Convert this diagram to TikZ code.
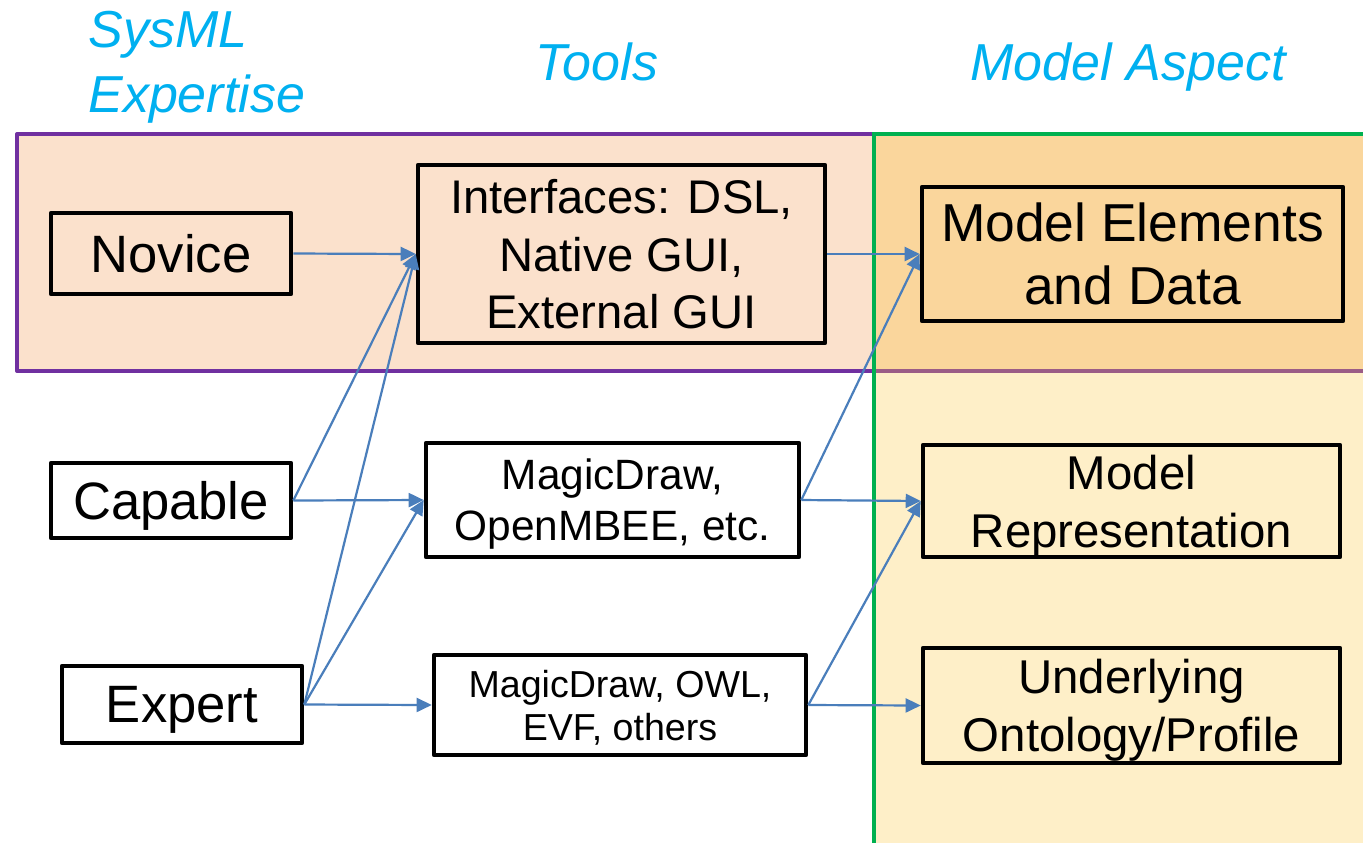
\documentclass[tikz,border=0pt]{standalone}
\usepackage{fontspec}
\setmainfont{Liberation Sans}
\usetikzlibrary{arrows.meta}

\definecolor{bandpeach}{HTML}{FBE1CC}
\definecolor{bandoverlap}{HTML}{FAD69C}
\definecolor{bandcream}{HTML}{FEEFC8}
\definecolor{bandpurple}{HTML}{7030A0}
\definecolor{bandmuted}{HTML}{9B5C86}
\definecolor{bandgreen}{HTML}{00B050}
\definecolor{linkblue}{HTML}{4A7EBB}
\definecolor{headcyan}{HTML}{00B0F0}

% keep the last line of a label from adding depth, so text centres on its letters
\newcommand{\nodp}[1]{\raisebox{0pt}[\height][0pt]{#1}}

\begin{document}
\begin{tikzpicture}[x=0.5pt,y=-0.5pt,
  box/.style={draw=black, line width=2.3pt, rectangle, inner sep=0pt,
              align=center, line join=round},
  link/.style={draw=linkblue, line width=1.1pt,
               -{Triangle[length=7.5pt,width=7pt]}},
  heading/.style={text=headcyan, inner sep=0pt,
                  font=\fontsize{26}{32}\selectfont\itshape}]
\useasboundingbox (0,0) rectangle (1363,842);
\clip (0,0) rectangle (1363,842);

% background bands
\fill[bandpeach]   (17,134) rectangle (874,371);
\fill[bandoverlap] (874,134) rectangle (1380,371);
\fill[bandcream]   (874,371) rectangle (1380,860);
\draw[bandpurple, line width=2pt, line join=round] (874,134) -- (17,134) -- (17,371) -- (874,371);
\draw[bandmuted, line width=2pt] (874,371) -- (1380,371);
\draw[bandgreen, line width=2pt] (1380,134) -- (874,134) -- (874,860);

% column headings
\node[heading, anchor=base west] (hexp1) at (88,47) {SysML};
\node[heading, anchor=base west] (hexp2) at (88,112) {Expertise};
\node[heading, anchor=base] (htools) at (597,80) {Tools};
\node[heading, anchor=base] (haspect) at (1128,80) {Model Aspect};

% expertise levels
\node[box, minimum width=120pt, minimum height=40.5pt,
      font=\fontsize{26.3}{31.5}\selectfont] (novice) at (171,253.5) {\nodp{Novice}};
\node[box, minimum width=120pt, minimum height=37.5pt,
      font=\fontsize{26.3}{31.5}\selectfont] (capable) at (171,500.5) {\nodp{Capable}};
\node[box, minimum width=120pt, minimum height=38.5pt,
      font=\fontsize{26.3}{31.5}\selectfont] (expert) at (182,704.5) {\nodp{Expert}};

% tools
\node[box, minimum width=203.5pt, minimum height=89pt,
      font=\fontsize{23.6}{28.75}\selectfont] (iface) at (621.5,254)
      {Interfaces: DSL,\\Native GUI,\\\nodp{External GUI}};
\node[box, minimum width=186.5pt, minimum height=57pt,
      font=\fontsize{21.2}{25.5}\selectfont] (md1) at (612.5,500)
      {MagicDraw,\\\nodp{OpenMBEE, etc.}};
\node[box, minimum width=186pt, minimum height=50pt,
      font=\fontsize{18.8}{21.5}\selectfont] (md2) at (620,705)
      {MagicDraw, OWL,\\\nodp{EVF, others}};

% model aspects
\node[box, minimum width=210.5pt, minimum height=67pt,
      font=\fontsize{26.7}{31.5}\selectfont] (melem) at (1132.5,254)
      {Model Elements\\\nodp{and Data}};
\node[box, minimum width=208.5pt, minimum height=56pt,
      font=\fontsize{23.7}{29}\selectfont] (mrep) at (1131.5,501)
      {Model\\\nodp{Representation}};
\node[box, minimum width=208.5pt, minimum height=57.5pt,
      font=\fontsize{23.7}{29}\selectfont] (under) at (1131.5,705.5)
      {Underlying\\\nodp{Ontology/Profile}};

% connectors
\draw[link] (novice.east)  -- (iface.west);
\draw[link] (capable.east) -- (iface.west);
\draw[link] (capable.east) -- (md1.west);
\draw[link] (expert.east)  -- (iface.west);
\draw[link] (expert.east)  -- (md1.west);
\draw[link] (expert.east)  -- (md2.west);
\draw[link] (iface.east)   -- (melem.west);
\draw[link] (md1.east)     -- (melem.west);
\draw[link] (md1.east)     -- (mrep.west);
\draw[link] (md2.east)     -- (mrep.west);
\draw[link] (md2.east)     -- (under.west);
\end{tikzpicture}
\end{document}
